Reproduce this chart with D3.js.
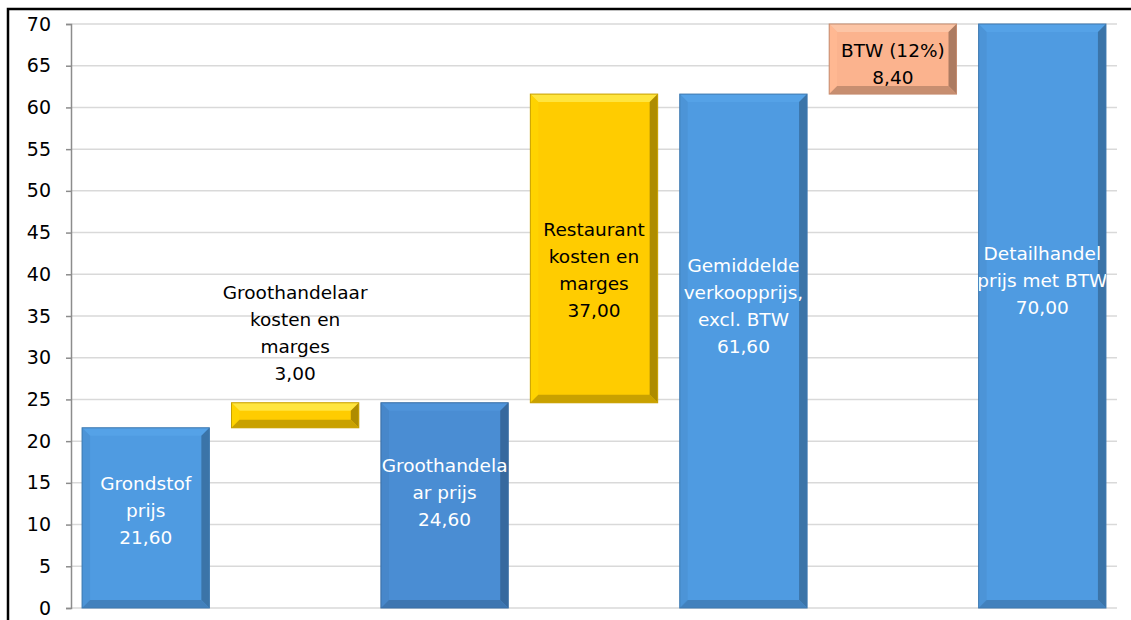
<!DOCTYPE html>
<html>
<head>
<meta charset="utf-8">
<script src="https://cdn.jsdelivr.net/npm/d3@7"></script>
<style>
  body { margin: 0; background: #fff; }
  svg { display: block; font-family: "DejaVu Sans", Verdana, sans-serif; }
</style>
</head>
<body>
<svg id="chart" width="1131" height="620"></svg>
<script>
// waterfall data
var categories = ["grondstof", "groothandelKosten", "groothandel", "restaurant", "gemiddeld", "btw", "detail"];
var starts = [0, 21.6, 0, 24.6, 0, 61.6, 0];
var values = [21.6, 3.0, 24.6, 37.0, 61.6, 8.4, 70.0];
var labels = [
    ["Grondstof", "prijs", "21,60"],
    ["Groothandelaar", "kosten en", "marges", "3,00"],
    ["Groothandela", "ar prijs", "24,60"],
    ["Restaurant", "kosten en", "marges", "37,00"],
    ["Gemiddelde", "verkoopprijs,", "excl. BTW", "61,60"],
    ["BTW (12%)", "8,40"],
    ["Detailhandel", "prijs met BTW", "70,00"]
];
// where the middle of each label block sits, in axis units
var labelAt = [11.7, 33.0, 13.9, 40.5, 36.2, 65.2, 39.2];
var inside = [true, false, true, true, true, true, true];
var yTicks = d3.range(0, 71, 5);

var colors = ["#4f9be1", "#ffcc00", "#4a8dd3", "#ffcc00", "#4f9be1", "#fbb38e", "#4f9be1"];
var topColors = ["#56a3e8", "#ffe94a", "#5095da", "#ffe94a", "#56a3e8", "#fcc8aa", "#56a3e8"];
var textColors = ["#fff", "#000", "#fff", "#000", "#fff", "#000", "#fff"];

var svg = d3.select("#chart");
var margin = {left: 71, right: 14, top: 24, bottom: 12};
var width = 1131 - margin.left - margin.right;
var height = 620 - margin.top - margin.bottom;

// frame round the chart area
svg.append("rect")
    .attr("x", 8).attr("y", 9)
    .attr("width", 1140).attr("height", 640)
    .attr("fill", "none")
    .attr("stroke", "#000")
    .attr("stroke-width", 2.5);

var g = svg.append("g")
    .attr("transform", "translate(" + margin.left + "," + margin.top + ")");

var x = d3.scaleBand()
    .domain(categories)
    .range([0, width])
    .paddingInner(0.148)
    .paddingOuter(0.074);

var y = d3.scaleLinear()
    .domain([0, 70])
    .range([height, 0]);

// gridlines
g.selectAll("line.grid")
    .data(yTicks)
    .enter()
    .append("line")
    .attr("class", "grid")
    .attr("x1", 0).attr("x2", width)
    .attr("y1", function(d) { return y(d); })
    .attr("y2", function(d) { return y(d); })
    .attr("stroke", "#d9d9d9")
    .attr("stroke-width", 1.5);

var yAxis = g.append("g")
    .call(d3.axisLeft(y).tickValues(yTicks).tickSize(5).tickPadding(15));
yAxis.select(".domain").attr("stroke", "#8c8c8c").attr("stroke-width", 1.5);
yAxis.selectAll(".tick line").attr("stroke", "#8c8c8c").attr("stroke-width", 1.5);
yAxis.selectAll(".tick text")
    .attr("fill", "#000")
    .style("font-size", "19px")
    .style("font-family", "DejaVu Sans, sans-serif");

var defs = svg.append("defs");

var bars = g.selectAll("g.bar")
    .data(categories)
    .enter()
    .append("g")
    .attr("class", "bar");

bars.each(function(c, i) {
    var sel = d3.select(this);
    var x0 = x(c), x1 = x(c) + x.bandwidth();
    var yTop = y(starts[i] + values[i]), yBot = y(starts[i]);
    var b = Math.min(8, (yBot - yTop) / 3);
    var base = d3.color(colors[i]);
    var isBlue = colors[i].indexOf("#4") === 0;

    sel.append("rect")
        .attr("x", x0).attr("y", yTop)
        .attr("width", x1 - x0).attr("height", yBot - yTop)
        .attr("fill", colors[i]);

    var faces = [
        {pts: [[x0, yTop], [x1, yTop], [x1 - b, yTop + b], [x0 + b, yTop + b]],
         fill: topColors[i]},
        {pts: [[x0, yTop], [x0 + b, yTop + b], [x0 + b, yBot - b], [x0, yBot]],
         fill: isBlue ? base.darker(0.15) : base.brighter(0.1)},
        {pts: [[x1, yTop], [x1, yBot], [x1 - b, yBot - b], [x1 - b, yTop + b]],
         fill: isBlue ? base.darker(1.0) : base.darker(1.3)},
        {pts: [[x0, yBot], [x1, yBot], [x1 - b, yBot - b], [x0 + b, yBot - b]],
         fill: isBlue ? base.darker(0.6) : base.darker(0.8)}
    ];
    sel.selectAll("polygon")
        .data(faces)
        .enter()
        .append("polygon")
        .attr("points", function(f) { return f.pts.join(" "); })
        .attr("fill", function(f) { return f.fill; })
        .attr("opacity", 0.85);

    sel.append("rect")
        .attr("x", x0).attr("y", yTop)
        .attr("width", x1 - x0).attr("height", yBot - yTop)
        .attr("fill", "none")
        .attr("stroke", base.darker(0.7))
        .attr("stroke-width", 1);

    // clip text to the bar, like the original does
    var clipId = "clip" + i;
    defs.append("clipPath").attr("id", clipId)
        .append("rect")
        .attr("x", margin.left + x0).attr("y", 0)
        .attr("width", x1 - x0).attr("height", 620);

    var lines = labels[i];
    var lh = 27;
    var mid = y(labelAt[i]);
    var txt = svg.append("text")
        .attr("text-anchor", "middle")
        .attr("fill", textColors[i])
        .style("font-size", "18.5px");
    if (inside[i]) txt.attr("clip-path", "url(#" + clipId + ")");
    txt.selectAll("tspan")
        .data(lines)
        .enter()
        .append("tspan")
        .attr("x", margin.left + x0 + x.bandwidth() / 2)
        .attr("y", function(d, k) { return margin.top + mid + (k - (lines.length - 1) / 2) * lh + 6.5; })
        .text(function(d) { return d; });
});
</script>
</body>
</html>
